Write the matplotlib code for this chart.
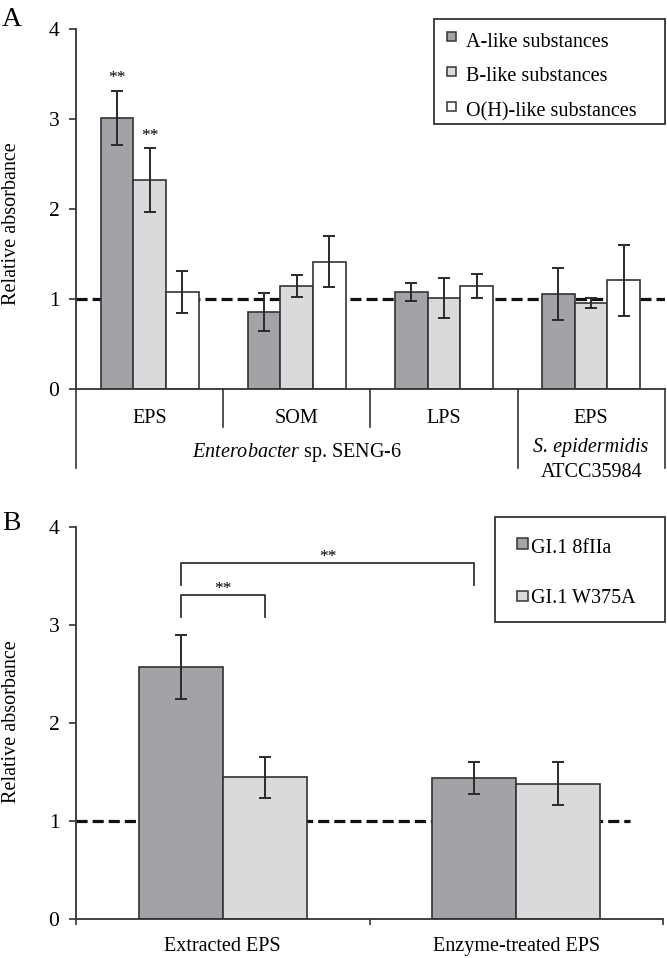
import matplotlib
matplotlib.use("Agg")
import matplotlib.pyplot as plt
from matplotlib.patches import Rectangle
import numpy as np

plt.rcParams['font.family'] = ['Liberation Serif', 'DejaVu Serif']
plt.rcParams['mathtext.fontset'] = 'custom'
plt.rcParams['mathtext.rm'] = 'Liberation Serif'
plt.rcParams['mathtext.it'] = 'Liberation Serif:italic'

# ---------------- data ----------------
groups_A = ['EPS', 'SOM', 'LPS', 'EPS']
series_A = ['A-like substances', 'B-like substances', 'O(H)-like substances']
a_like = [3.02, 0.86, 1.085, 1.06]
a_err = [0.30, 0.21, 0.10, 0.29]
b_like = [2.33, 1.15, 1.015, 0.955]
b_err = [0.355, 0.125, 0.225, 0.057]
oh_like = [1.085, 1.42, 1.15, 1.21]
oh_err = [0.235, 0.28, 0.13, 0.395]
sig_A = [(0, 0), (1, 0)]  # (series index, group index) marked with **

groups_B = ['Extracted EPS', 'Enzyme-treated EPS']
series_B = ['GI.1 8fIIa', 'GI.1 W375A']
wt_vals = [2.566, 1.437]
wt_err = [0.327, 0.167]
mut_vals = [1.444, 1.38]
mut_err = [0.212, 0.218]
# brackets: ((series, group), (series, group), top height, leg bottom)
brackets_B = [((0, 0), (1, 0), 3.30, 3.08), ((0, 0), (0, 1), 3.626, 3.41)]

ref_level = 1.0
yticks = [0, 1, 2, 3, 4]

# ---------------- style ----------------
c_dark = '#a2a3a7'
c_light = '#d9dadc'
c_white = '#ffffff'
edge = '#333333'
FS = 14.5
W, H = 667, 958

fig = plt.figure(figsize=(W / 100, H / 100), dpi=100)


def fx(x):
    return x / W


def fy(y):
    return 1 - y / H


def style_axis(ax):
    for s in ['top', 'right']:
        ax.spines[s].set_visible(False)
    for s in ['left', 'bottom']:
        ax.spines[s].set_color(edge)
        ax.spines[s].set_linewidth(1.3)
    ax.set_ylim(0, 4)
    ax.set_yticks(yticks)
    ax.set_yticklabels([str(t) for t in yticks], fontsize=15.5)
    ax.tick_params(axis='y', direction='out', length=5, width=1.2, color=edge, pad=7)


def dashed(ax, xmax=1.0):
    lw = 2.3
    ax.axhline(ref_level, xmin=0, xmax=xmax, color='#111111', lw=lw,
               dashes=(8.0 / lw, 3.6 / lw), zorder=1.5)


# ================ Panel A ================
axA = fig.add_axes([fx(76), fy(389.3), (664.7 - 76) / W, (389.3 - 29.3) / H])
style_axis(axA)
nA = len(groups_A)
xA = np.arange(nA)
wA = 0.222
valsA = [a_like, b_like, oh_like]
errsA = [a_err, b_err, oh_err]
colsA = [c_dark, c_light, c_white]
for i in range(3):
    pos = xA + (i - 1) * wA
    axA.bar(pos, valsA[i], wA, color=colsA[i], edgecolor=edge, linewidth=1.2, zorder=2)
    axA.errorbar(pos, valsA[i], yerr=errsA[i], fmt='none', ecolor='#2a2a2a',
                 elinewidth=1.4, capsize=4.4, capthick=1.4, zorder=3)
for (si, gi) in sig_A:
    px = xA[gi] + (si - 1) * wA
    top = valsA[si][gi] + errsA[si][gi]
    axA.text(px, top + 0.09, '**', ha='center', va='baseline', fontsize=12.5)
dashed(axA)
axA.set_xlim(-0.5, nA - 0.5)
axA.set_xticks([])
axA.tick_params(axis='x', length=0)

tr = axA.get_xaxis_transform()
hA = 360.0
for b in [0.5, 1.5]:
    axA.plot([b, b], [0, -(427.3 - 389.3) / hA], transform=tr, color=edge, lw=1.2, clip_on=False)
for b in [-0.5, 2.5, 3.5]:
    axA.plot([b, b], [0, -(468 - 389.3) / hA], transform=tr, color=edge, lw=1.2, clip_on=False)
for g, lab in zip(xA, groups_A):
    axA.text(g, -(422.7 - 389.3) / hA, lab, transform=tr, ha='center', va='baseline', fontsize=FS)
axA.text(1.0, -(457.3 - 389.3) / hA, r'$\it{Enterobacter}$ sp. SENG-6', transform=tr,
         ha='center', va='baseline', fontsize=FS)
axA.text(3.0, -(451.7 - 389.3) / hA, 'S. epidermidis', style='italic', transform=tr,
         ha='center', va='baseline', fontsize=FS)
axA.text(3.0, -(476.7 - 389.3) / hA, 'ATCC35984', transform=tr,
         ha='center', va='baseline', fontsize=FS)

fig.text(fx(12), fy(224), 'Relative absorbance', rotation=90, ha='center', va='center', fontsize=FS)
fig.text(fx(2), fy(26), 'A', ha='left', va='baseline', fontsize=20)

# legend A (drawn as a box with square swatches)
fig.add_artist(Rectangle((fx(433.7), fy(124)), (665.3 - 433.7) / W, (124 - 19.3) / H,
                         transform=fig.transFigure, facecolor='white', edgecolor=edge, lw=1.3))
sq = 9.5
for i, (lab, col) in enumerate(zip(series_A, colsA)):
    cy = [36.5, 71.5, 106.7][i]
    base = [46.7, 81.0, 116.0][i]
    fig.add_artist(Rectangle((fx(451.7 - sq / 2), fy(cy + sq / 2)), sq / W, sq / H,
                             transform=fig.transFigure, facecolor=col, edgecolor=edge, lw=1.1))
    fig.text(fx(465.7), fy(base), lab, ha='left', va='baseline', fontsize=FS)

# ================ Panel B ================
axB = fig.add_axes([fx(76), fy(919), (663 - 76) / W, (919 - 526.7) / H])
style_axis(axB)
nB = len(groups_B)
xB = np.arange(nB)
wB = 0.286
valsB = [wt_vals, mut_vals]
errsB = [wt_err, mut_err]
colsB = [c_dark, c_light]
for i in range(2):
    pos = xB + (i - 0.5) * wB
    axB.bar(pos, valsB[i], wB, color=colsB[i], edgecolor=edge, linewidth=1.2, zorder=2)
    axB.errorbar(pos, valsB[i], yerr=errsB[i], fmt='none', ecolor='#2a2a2a',
                 elinewidth=1.4, capsize=4.4, capthick=1.4, zorder=3)
axB.set_xlim(-0.5, nB - 0.5)
dashed(axB, xmax=(629.7 - 76) / (663 - 76))
axB.set_xticks([-0.5, 0.5, 1.5])
axB.set_xticklabels([])
axB.tick_params(axis='x', direction='out', length=4.3, width=1.2, color=edge)
trB = axB.get_xaxis_transform()
hB = 919 - 526.7
for g, lab in zip(xB, groups_B):
    axB.text(g, -(951.3 - 919) / hB, lab, transform=trB, ha='center', va='baseline', fontsize=FS)

for (s1, g1), (s2, g2), top, leg in brackets_B:
    x1 = xB[g1] + (s1 - 0.5) * wB
    x2 = xB[g2] + (s2 - 0.5) * wB
    axB.plot([x1, x1, x2, x2], [leg, top, top, leg], color=edge, lw=1.3, zorder=3)
    axB.text((x1 + x2) / 2, top + 0.02, '**', ha='center', va='baseline', fontsize=12.5)

fig.text(fx(12), fy(721.7), 'Relative absorbance', rotation=90, ha='center', va='center', fontsize=FS)
fig.text(fx(2), fy(530), 'B', ha='left', va='baseline', fontsize=20)

fig.add_artist(Rectangle((fx(495), fy(621.7)), (664.7 - 495) / W, (621.7 - 517.3) / H,
                         transform=fig.transFigure, facecolor='white', edgecolor=edge, lw=1.3))
sqB = 10.5
for i, (lab, col) in enumerate(zip(series_B, colsB)):
    cy = [543.7, 595.8][i]
    base = [552.7, 603.3][i]
    fig.add_artist(Rectangle((fx(522.7 - sqB / 2), fy(cy + sqB / 2)), sqB / W, sqB / H,
                             transform=fig.transFigure, facecolor=col, edgecolor=edge, lw=1.1))
    fig.text(fx(531), fy(base), lab, ha='left', va='baseline', fontsize=FS)

fig.savefig('out.png', dpi=100)
